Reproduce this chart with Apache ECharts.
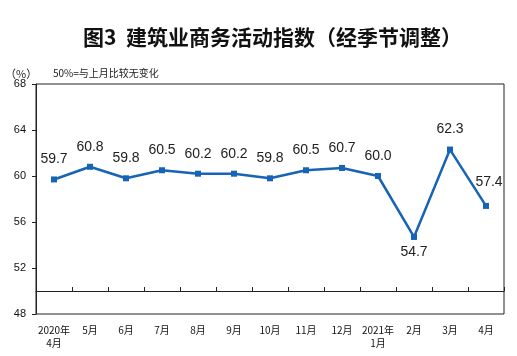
<!DOCTYPE html>
<html><head><meta charset="utf-8">
<script src="https://cdn.jsdelivr.net/npm/echarts@6/dist/echarts.min.js"></script>
<style>html,body{margin:0;padding:0;background:#fff}#c{width:517px;height:356px}</style>
</head><body><div id="c"></div>
<script>
const categories = ['2020年\n4月','5月','6月','7月','8月','9月','10月','11月','12月','2021年\n1月','2月','3月','4月'];
const values = [59.7, 60.8, 59.8, 60.5, 60.2, 60.2, 59.8, 60.5, 60.7, 60.0, 54.7, 62.3, 57.4];
const yTicks = [48, 52, 56, 60, 64, 68];
const titleText = '图3  建筑业商务活动指数（经季节调整）';
const unitText = '（%）';
const noteText = '50%=与上月比较无变化';
const baseline = 50;

const chart = echarts.init(document.getElementById('c'));
const lineColor = '#1763b6';
const data = values.map((v, i) => {
  const d = { value: v };
  if (i === 10) d.label = { position: 'bottom', distance: 5 };
  if (i === 12) d.label = { offset: [3, -4] };
  return d;
});
chart.setOption({
  animation: false,
  title: [
    { text: titleText, left: 78, top: 22, textStyle: { fontFamily: 'Noto Sans CJK SC', fontSize: 21, fontWeight: 'bold', color: '#111' } },
    { text: unitText, left: 0, top: 63, textStyle: { fontFamily: 'Noto Sans CJK SC', fontSize: 11, fontWeight: 'normal', color: '#222' } },
    { text: noteText, left: 48, top: 63, textStyle: { fontFamily: 'Noto Sans CJK SC', fontSize: 10, fontWeight: 'normal', color: '#222' } }
  ],
  grid: { left: 36, right: 13, top: 84, bottom: 42, show: true, borderColor: '#222', borderWidth: 1, backgroundColor: 'transparent' },
  xAxis: [
    {
      type: 'category', data: categories, boundaryGap: true, position: 'bottom',
      axisLine: { show: false }, axisTick: { show: false },
      axisLabel: { interval: 0, fontFamily: 'Noto Sans CJK SC', fontSize: 10, color: '#111', margin: 10, lineHeight: 13 }
    },
    {
      type: 'category', data: categories, boundaryGap: true, position: 'bottom', offset: -23,
      axisLine: { show: true, lineStyle: { color: '#222', width: 1 } },
      axisTick: { show: true, inside: true, length: 4, interval: 0, lineStyle: { color: '#222' } },
      axisLabel: { show: false }
    }
  ],
  yAxis: {
    type: 'value', min: yTicks[0], max: yTicks[yTicks.length - 1], interval: 4,
    axisLine: { show: true, lineStyle: { color: '#222' } },
    axisTick: { show: true, length: 4, lineStyle: { color: '#222' } },
    splitLine: { show: false },
    axisLabel: { fontFamily: 'Arial', fontSize: 11, color: '#111', margin: 10 }
  },
  series: [{
    type: 'line', data: data, xAxisIndex: 0,
    symbol: 'rect', symbolSize: 6,
    itemStyle: { color: lineColor },
    lineStyle: { color: lineColor, width: 2.5 },
    label: { show: true, position: 'top', distance: 10, fontFamily: 'Arial', fontSize: 14, color: '#222', formatter: p => p.value.toFixed(1) }
  }]
});
</script></body></html>
